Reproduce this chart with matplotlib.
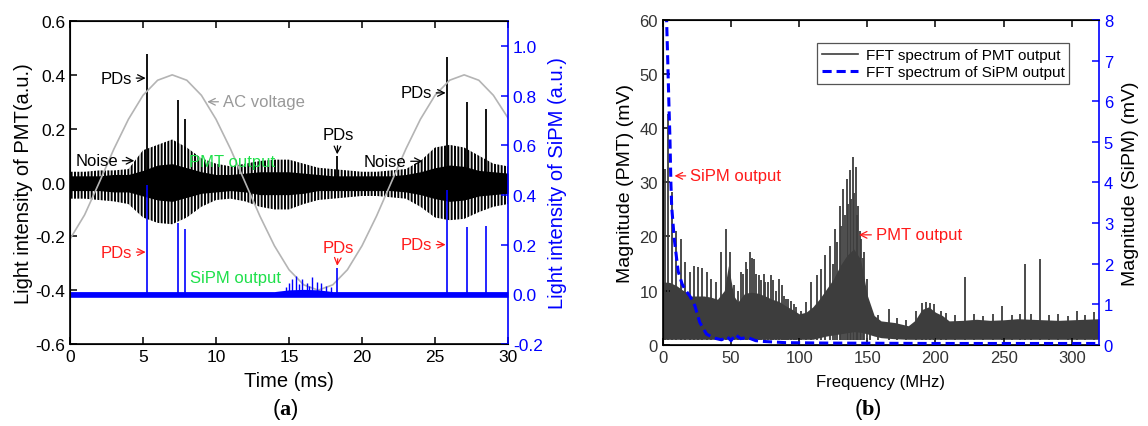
import numpy as np
import matplotlib
matplotlib.use("Agg")
import matplotlib.pyplot as plt
from matplotlib.lines import Line2D

plt.rcParams['font.family'] = ['Liberation Sans', 'DejaVu Sans']
plt.rcParams['axes.unicode_minus'] = False
plt.rcParams['hatch.linewidth'] = 1.4
plt.rcParams['mathtext.fontset'] = 'custom'
plt.rcParams['mathtext.rm'] = 'Liberation Serif'
plt.rcParams['mathtext.bf'] = 'Liberation Serif:bold'

# ---------------- (a) time domain ----------------
t_ms = np.arange(0, 31)  # 1 ms grid
ac_voltage = [-0.21, -0.12, 0.0, 0.124, 0.235, 0.324, 0.38, 0.40, 0.38, 0.324, 0.235,
              0.124, 0.0, -0.124, -0.235, -0.324, -0.38, -0.40, -0.38, -0.324, -0.235,
              -0.124, 0.0, 0.124, 0.235, 0.324, 0.38, 0.40, 0.38, 0.324, 0.24]
# outer (striped) envelope of the PMT trace
pmt_outer_hi = [0.04, 0.04, 0.045, 0.045, 0.05, 0.12, 0.14, 0.16, 0.13, 0.09, 0.07,
                0.06, 0.07, 0.08, 0.085, 0.085, 0.07, 0.055, 0.05, 0.045, 0.04,
                0.04, 0.045, 0.05, 0.08, 0.13, 0.14, 0.13, 0.10, 0.07, 0.06]
pmt_outer_lo = [-0.06, -0.06, -0.065, -0.07, -0.08, -0.13, -0.15, -0.155, -0.13, -0.09, -0.065,
                -0.06, -0.07, -0.09, -0.10, -0.10, -0.08, -0.065, -0.06, -0.055, -0.05,
                -0.05, -0.055, -0.06, -0.09, -0.13, -0.14, -0.135, -0.11, -0.09, -0.08]
# solid black core of the PMT trace
pmt_core_hi = [0.025, 0.025, 0.025, 0.03, 0.03, 0.045, 0.065, 0.07, 0.055, 0.04, 0.03,
               0.03, 0.035, 0.04, 0.04, 0.04, 0.035, 0.03, 0.025, 0.025, 0.025,
               0.025, 0.025, 0.03, 0.04, 0.055, 0.065, 0.06, 0.045, 0.04, 0.035]
pmt_core_lo = [-0.03, -0.03, -0.03, -0.035, -0.035, -0.05, -0.065, -0.07, -0.055, -0.04, -0.035,
               -0.03, -0.035, -0.045, -0.045, -0.045, -0.04, -0.03, -0.03, -0.03, -0.03,
               -0.03, -0.03, -0.035, -0.045, -0.06, -0.07, -0.065, -0.05, -0.045, -0.04]
# SiPM baseline band (right axis)
sipm_hi = [0.011] * 15 + [0.018, 0.02, 0.018, 0.011] + [0.011] * 12
sipm_lo = [-0.012] * 31
sipm_noise_t = [14.8, 15.0, 15.2, 15.5, 15.7, 15.9, 16.2, 16.4, 16.55, 16.9, 17.2, 17.55, 17.9]
sipm_noise_h = [0.03, 0.045, 0.06, 0.074, 0.04, 0.06, 0.045, 0.035, 0.07, 0.05, 0.045, 0.035, 0.03]

pd_times = [5.25, 7.4, 7.88, 18.3, 25.8, 27.2, 28.47]
pmt_pd_heights = [0.477, 0.306, 0.236, 0.10, 0.465, 0.30, 0.275]
sipm_pd_heights = [0.44, 0.286, 0.262, 0.107, 0.42, 0.27, 0.275]

# ---------------- (b) FFT spectra ----------------
env_freq = [0, 5, 10, 15, 20, 25, 30, 35, 40, 45, 48, 52, 55, 60, 65, 70, 75, 80, 85, 90,
            95, 100, 105, 110, 115, 120, 125, 130, 135, 140, 145, 150, 155, 160, 170, 180,
            185, 190, 195, 200, 205, 210, 220, 230, 240, 250, 260, 270, 280, 290, 300, 310, 320]
env_top = [11.6, 11.5, 10.9, 10.0, 9.0, 9.0, 9.0, 8.8, 8.4, 10.0, 14.6, 9.0, 7.9, 9.5, 9.7,
           9.5, 9.0, 8.4, 8.0, 7.2, 6.5, 5.7, 6.0, 7.0, 8.5, 10.3, 12.1, 14.6, 16.5, 17.7,
           15.8, 9.1, 5.4, 4.4, 4.1, 3.5, 4.5, 6.5, 7.0, 6.0, 5.4, 4.4, 4.5, 4.7, 4.5, 4.6,
           4.8, 4.7, 4.6, 4.5, 4.6, 4.7, 4.8]
env_bottom = [1.0] * 24 + [1.3, 1.6, 1.8, 2.0, 2.2, 2.4, 2.3, 2.0, 1.6, 1.3, 1.1] + [1.0] * 18
spike_freq = [1.5, 3.4, 6.8, 9.9, 13, 16.3, 19.5, 22.7, 25.6, 29, 32.3, 35, 38.7, 42.3,
              46.5, 49, 52, 55, 57.5, 58.5, 60.7, 62, 63.8, 65, 66.8, 68, 70.5, 72, 74, 75,
              77, 79, 81, 83, 85, 87, 88.5, 90, 92, 94, 96, 98, 101, 105,
              109, 113, 116, 119, 122.6, 124.5, 126.3, 128, 129.9, 131, 132.4, 133.6,
              134.8, 136, 137, 138, 139.2, 140.3, 141.4, 142.4, 143.3, 144.4, 145.5,
              146.6, 147.7, 149.9, 152.3, 158, 165.7, 172, 178, 186, 190, 193, 196, 199,
              204, 208, 214, 221.7, 228, 235, 242, 248.9, 256, 262, 265.4, 270, 276.9,
              283, 290, 297, 303.9, 310, 316.5]
spike_mag = [32.5, 42.6, 28.2, 21, 19.5, 15.3, 13.4, 14.6, 14.4, 14.1, 13.4, 12.1, 11.5,
             17.1, 21.4, 17.1, 11, 10, 13.4, 13, 15.3, 14, 17.1, 16, 15.8, 13, 12.8, 12, 13,
             11.5, 11.5, 12.8, 12, 10, 12.1, 11, 9, 8.4, 8.5, 8, 7.5, 7, 6.3, 7.9,
             11.5, 12.8, 14.0, 16.5, 18.3, 15, 21.4, 19, 25.7, 22, 28.8,
             24, 30.6, 26, 32.2, 27, 34.6, 28, 32.8, 24, 25.7, 21, 19.5, 16, 17.1, 12.1,
             7.2, 5.5, 6.6, 5.0, 4.6, 6.2, 7.7, 7.8, 7.7, 7.5,
             6.2, 5.8, 5.4, 12.5, 5.6, 5.3, 5.6, 7.2, 5.5, 5.7, 14.9, 5.6, 15.8,
             5.4, 5.6, 5.3, 6.3, 5.5, 6.0]
sipm_freq = [2.0, 2.5, 3.5, 4.3, 5.1, 5.8, 6.4, 8.3, 11.2, 14, 16, 19.7, 23.4, 27, 32, 38,
             43, 47, 50, 53, 57, 62, 68, 74, 90, 120, 200, 320]
sipm_mag = [9.5, 8.2, 7.0, 6.0, 5.1, 4.0, 3.4, 2.6, 1.8, 1.5, 1.37, 1.2, 0.96, 0.55, 0.26,
            0.16, 0.12, 0.2, 0.1, 0.25, 0.15, 0.18, 0.1, 0.08, 0.05, 0.04, 0.03, 0.03]

BLUE = '#0000ff'
GREEN = '#1ee04a'
RED = '#ff1a1a'
GRAY_FFT = '#3d3d3d'

fig = plt.figure(figsize=(11.48, 4.27), dpi=100)

# ===== panel (a) =====
ax = fig.add_axes([0.0610, 0.1920, 0.3815, 0.7564])
ax2 = ax.twinx()

ax.fill_between(t_ms, pmt_outer_lo, pmt_outer_hi, facecolor='none', edgecolor='black',
                hatch='|||||', linewidth=0, zorder=2)
ax.fill_between(t_ms, pmt_core_lo, pmt_core_hi, color='black', linewidth=0, zorder=3)
ax.vlines(pd_times, 0, pmt_pd_heights, color='black', lw=1.3, zorder=3)
ax.plot(t_ms, ac_voltage, color='#b4b4b4', lw=1.2, zorder=4)

ax2.fill_between(t_ms, sipm_lo, sipm_hi, color=BLUE, linewidth=0)
ax2.vlines(sipm_noise_t, 0, sipm_noise_h, color=BLUE, lw=1.0)
ax2.vlines(pd_times, 0, sipm_pd_heights, color=BLUE, lw=1.2)

ax.set_xlim(0, 30)
ax.set_ylim(-0.6, 0.6)
ax.set_xticks([0, 5, 10, 15, 20, 25, 30])
ax.set_yticks([-0.6, -0.4, -0.2, 0.0, 0.2, 0.4, 0.6])
ax2.set_ylim(-0.2, 1.1)
ax2.set_yticks([-0.2, 0.0, 0.2, 0.4, 0.6, 0.8, 1.0])

ax.tick_params(direction='in', top=True, right=False, length=5, width=1.1, labelsize=12.5)
ax2.tick_params(direction='in', length=5, width=1.1, labelsize=12.5, colors=BLUE)
ax.spines['right'].set_visible(False)
ax2.spines['right'].set_color(BLUE)
for sp in ax.spines.values():
    sp.set_linewidth(1.2)
ax2.spines['right'].set_linewidth(1.2)

ax.set_xlabel('Time (ms)', fontsize=14.5, labelpad=5)
ax.set_ylabel('Light intensity of PMT(a.u.)', fontsize=14.5, labelpad=2)
ax2.set_ylabel('Light intensity of SiPM (a.u.)', fontsize=14.5, color=BLUE, labelpad=4)

arr_k = dict(arrowstyle='->', color='black', lw=0.9, shrinkA=1, shrinkB=0)
arr_r = dict(arrowstyle='->', color=RED, lw=0.9, shrinkA=1, shrinkB=0)
fs = 12
ax.annotate('PDs', xy=(5.18, 0.388), xytext=(4.25, 0.388), ha='right', va='center',
            fontsize=fs, arrowprops=arr_k, zorder=6)
ax.annotate('Noise', xy=(4.4, 0.081), xytext=(3.3, 0.081), ha='right', va='center',
            fontsize=fs, arrowprops=arr_k, zorder=6)
ax.annotate('AC voltage', xy=(9.4, 0.30), xytext=(10.45, 0.30), ha='left', va='center',
            fontsize=fs, color='#999999',
            arrowprops=dict(arrowstyle='->', color='#999999', lw=0.9, shrinkA=1, shrinkB=0))
ax.text(8.17, 0.077, 'PMT output', color=GREEN, fontsize=fs, va='center', zorder=6)
ax.annotate('PDs', xy=(18.3, 0.105), xytext=(18.35, 0.18), ha='center', va='center',
            fontsize=fs, arrowprops=arr_k, zorder=6)
ax.annotate('Noise', xy=(24.15, 0.079), xytext=(23.05, 0.079), ha='right', va='center',
            fontsize=fs, arrowprops=arr_k, zorder=6)
ax.annotate('PDs', xy=(25.73, 0.333), xytext=(24.8, 0.333), ha='right', va='center',
            fontsize=fs, arrowprops=arr_k, zorder=6)

ax2.annotate('PDs', xy=(5.18, 0.17), xytext=(4.26, 0.17), ha='right', va='center',
             fontsize=fs, color=RED, arrowprops=arr_r)
ax2.text(8.2, 0.067, 'SiPM output', color=GREEN, fontsize=fs, va='center')
ax2.annotate('PDs', xy=(18.3, 0.115), xytext=(18.4, 0.19), ha='center', va='center',
             fontsize=fs, color=RED, arrowprops=arr_r)
ax2.annotate('PDs', xy=(25.73, 0.20), xytext=(24.8, 0.20), ha='right', va='center',
             fontsize=fs, color=RED, arrowprops=arr_r)

# ===== panel (b) =====
bx = fig.add_axes([0.5775, 0.1904, 0.3798, 0.7604])
bx2 = bx.twinx()

bx.fill_between(env_freq, env_bottom, env_top, color=GRAY_FFT, linewidth=0)
bx.vlines(spike_freq, 0.9, spike_mag, color=GRAY_FFT, lw=1.3)
bx2.plot(sipm_freq, sipm_mag, color=BLUE, ls=(0, (3, 1.6)), lw=2.2)

bx.set_xlim(0, 320)
bx.set_ylim(0, 60)
bx.set_xticks([0, 50, 100, 150, 200, 250, 300])
bx.set_yticks([0, 10, 20, 30, 40, 50, 60])
bx2.set_ylim(0, 8)
bx2.set_yticks(range(0, 9))

bx.tick_params(direction='in', top=True, right=False, length=5, width=1.1, labelsize=12,
               labelcolor='#333333')
bx2.tick_params(direction='in', length=5, width=1.1, labelsize=12, colors=BLUE)
bx.spines['right'].set_visible(False)
bx2.spines['right'].set_color(BLUE)
for sp in bx.spines.values():
    sp.set_linewidth(1.2)
bx2.spines['right'].set_linewidth(1.2)

bx.set_xlabel('Frequency (MHz)', fontsize=12, labelpad=7)
bx.set_ylabel('Magnitude (PMT) (mV)', fontsize=14, labelpad=4)
bx2.set_ylabel('Magnitude (SiPM) (mV)', fontsize=14, labelpad=6)

bx.annotate('SiPM output', xy=(8.5, 31.2), xytext=(19.7, 31.2), ha='left', va='center',
            fontsize=fs, color=RED, arrowprops=arr_r)
bx.annotate('PMT output', xy=(143.8, 20.3), xytext=(156, 20.3), ha='left', va='center',
            fontsize=fs, color=RED, arrowprops=arr_r)

handles = [Line2D([], [], color=GRAY_FFT, lw=1.2),
           Line2D([], [], color=BLUE, ls=(0, (3, 1.6)), lw=2.2)]
leg = bx2.legend(handles, ['FFT spectrum of PMT output', 'FFT spectrum of SiPM output'],
                 loc='upper right', bbox_to_anchor=(0.932, 0.928), fontsize=11,
                 fancybox=False, edgecolor='#555555', framealpha=1, handlelength=2.4,
                 borderpad=0.3, labelspacing=0.2, handletextpad=0.5, borderaxespad=0)
leg.get_frame().set_linewidth(0.9)

fig.text(285 / 1148, 1 - 410 / 427, r'($\mathbf{a}$)', fontsize=16, ha='center', va='center')
fig.text(868 / 1148, 1 - 410 / 427, r'($\mathbf{b}$)', fontsize=16, ha='center', va='center')

fig.savefig('out.png', dpi=100)
